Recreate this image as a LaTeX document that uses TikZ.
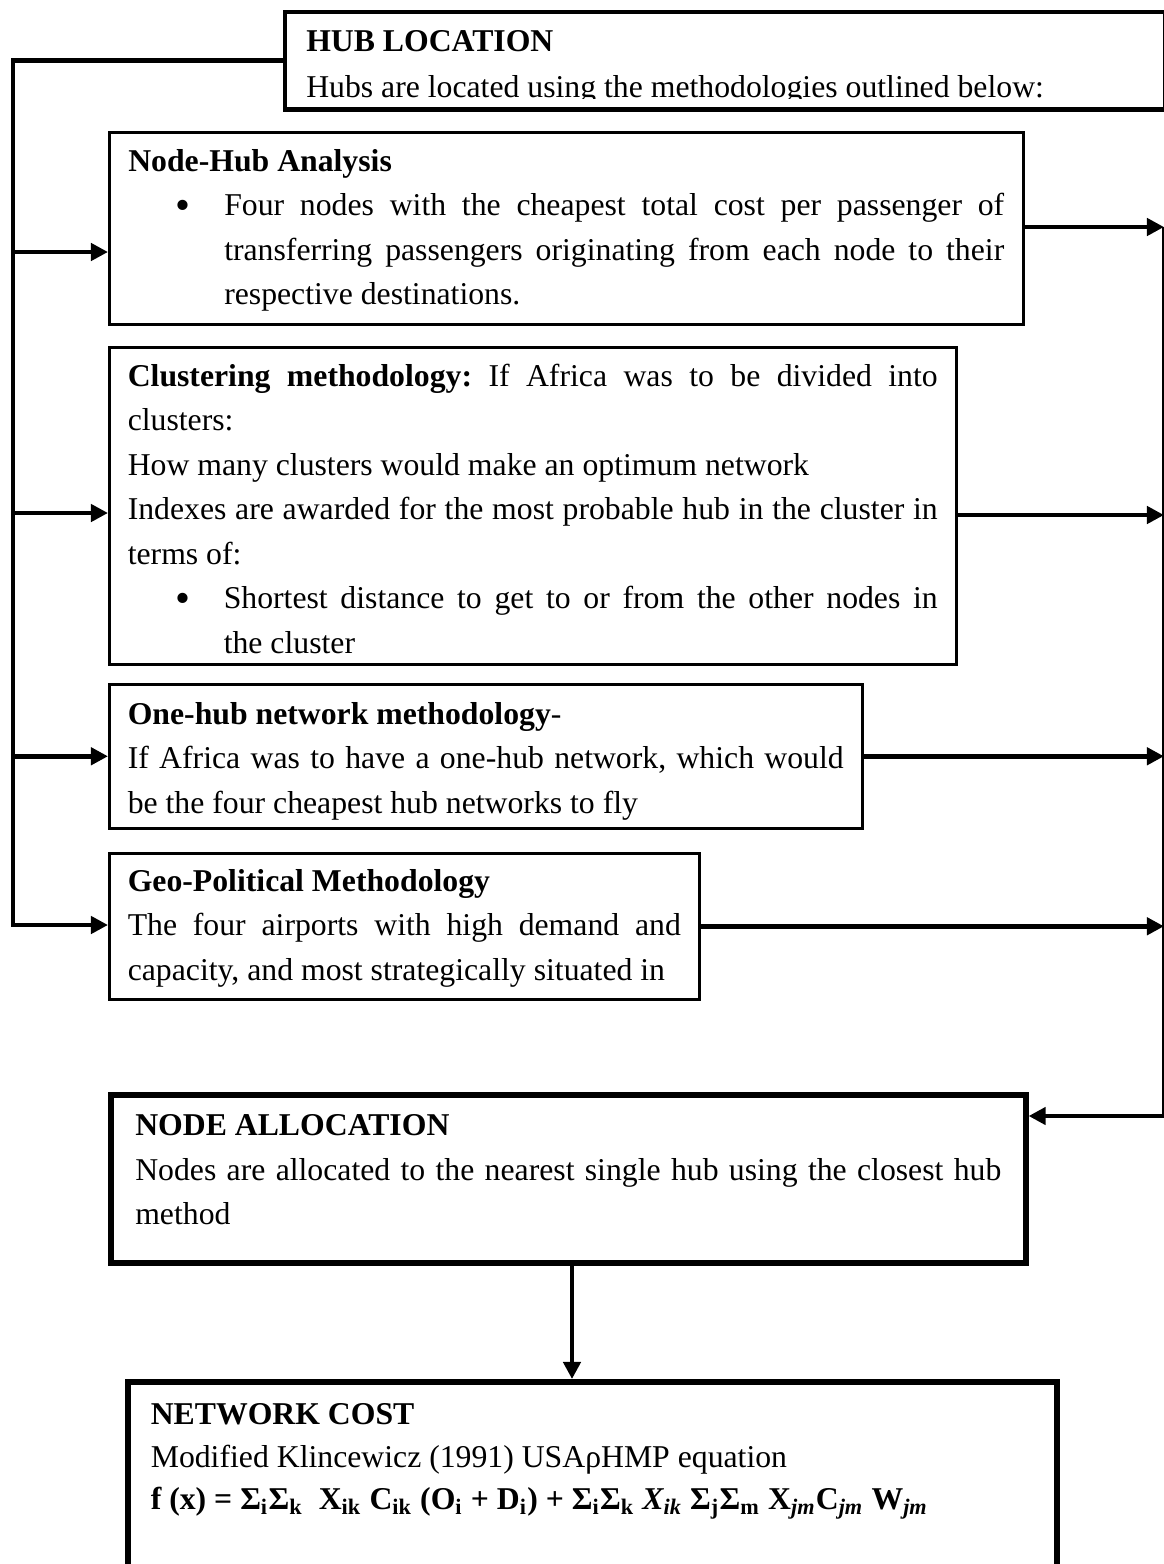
\documentclass[tikz,border=0pt]{standalone}
\usepackage{fontspec}
\setmainfont{Liberation Serif}
\usetikzlibrary{arrows.meta}

\newcommand{\bulletpt}[1]{\makebox[36pt][l]{\hspace{17.8pt}\raisebox{-1.5pt}{\fontsize{16}{16}\selectfont\textbullet}}\parbox[t]{\dimexpr\linewidth-36pt\relax}{#1}}

\tikzset{
  box/.style={draw, line width=0.95pt, rectangle, anchor=north west,
    inner ysep=0pt, inner xsep=6.94pt, align=justify,
    font=\fontsize{11.9}{16.7}\selectfont\frenchspacing},
  heavybox/.style={box, line width=2.1pt},
  link/.style={line width=1.75pt},
  linkarrow/.style={link, -{Triangle[length=6.4pt,width=6.4pt]}}
}

\begin{document}
\begin{tikzpicture}[x=0.375pt,y=-0.375pt]
  \useasboundingbox (0,0) rectangle (1163,1564);

  % top box, its second line is cut by the frame
  \begin{scope}
    \clip (0,0) rectangle (1163,98);
    \node[box, draw=none, inner xsep=7.5pt, text width=314pt, text height=14.25pt,
      text depth=21.4pt, font=\fontsize{11.9}{17.25}\selectfont\frenchspacing] (hub) at (285,12)
      {\textbf{HUB LOCATION}\\Hubs are located using the methodologies outlined below:};
  \end{scope}
  \draw[line width=1.75pt] (hub.north west) rectangle (hub.south east);

  \begin{scope}[every node/.style={box}]
    \node[inner xsep=7.125pt, text width=328.5pt, text height=14.625pt, text depth=57.375pt] (nh) at (108,131)
      {\textbf{Node-Hub Analysis}\par
       \bulletpt{Four nodes with the cheapest total cost per passenger of\linebreak
       transferring passengers originating from each node to their\linebreak
       respective destinations.}};
    \node[text width=303.75pt, text height=14.625pt, text depth=104.25pt] (cl) at (108,346)
      {\textbf{Clustering methodology:} If Africa was to be divided into\linebreak clusters:\par
       How many clusters would make an optimum network\par
       Indexes are awarded for the most probable hub in the cluster in\linebreak terms of:\par
       \bulletpt{Shortest distance to get to or from the other nodes in\linebreak the cluster}};
    \node[text width=268.5pt, text height=15pt, text depth=39pt] (oh) at (108,683)
      {\textbf{One-hub network methodology}-\par
       If Africa was to have a one-hub network, which would\linebreak
       be the four cheapest hub networks to fly};
    \node[text width=207.4pt, text height=14.25pt, text depth=40.5pt] (gp) at (108,852)
      {\textbf{Geo-Political Methodology}\par
       \parfillskip=0pt The four airports with high demand and\linebreak
       capacity, and most strategically situated in};
    \node[heavybox, inner xsep=9.19pt, text width=324.75pt, text height=15.375pt, text depth=47.6pt] (na) at (108,1092)
      {\textbf{NODE ALLOCATION}\par
       Nodes are allocated to the nearest single hub using the closest hub\linebreak method};
    \node[heavybox, inner xsep=8.625pt, text width=331.1pt, text height=16.1pt, text depth=75pt,
      font=\fontsize{11.9}{15.9}\selectfont\frenchspacing] (nc) at (125,1379)
      {\textbf{NETWORK COST}\par
       Modified Klincewicz (1991) USAρHMP equation\par
       \textbf{f (x) = Σ\textsubscript{i}Σ\textsubscript{k}\ \ X\textsubscript{ik} C\textsubscript{ik} (O\textsubscript{i} + D\textsubscript{i}) + Σ\textsubscript{i}Σ\textsubscript{k} \textit{X\textsubscript{ik}} Σ\textsubscript{j}Σ\textsubscript{m} X\textsubscript{\textit{jm}}C\textsubscript{\textit{jm}} W\textsubscript{\textit{jm}}}};
  \end{scope}

  % rails
  \coordinate (lrail) at (13,925);
  \coordinate (r1) at (13,252);
  \coordinate (r2) at (13,513);
  \coordinate (rtop) at (1164,227);
  \coordinate (e2) at (1164,515);
  \coordinate (rbot) at (1164,1116);
  \coordinate (dn) at (572,0);

  \draw[linkarrow] (hub.west) -| (lrail) -- (lrail -| gp.west);
  \draw[linkarrow] (rtop) -- (rbot) -- (rbot -| na.east);

  \begin{scope}[every edge/.style={draw, linkarrow}]
    \path (r1) edge (r1 -| nh.west);
    \path (r2) edge (r2 -| cl.west);
    \path (oh.west -| lrail) edge (oh.west);
    \path (rtop -| nh.east) edge (rtop);
    \path (e2 -| cl.east) edge (e2);
    \path (oh.east) edge (oh.east -| rtop);
    \path (gp.east) edge (gp.east -| rtop);
    \path (na.south -| dn) edge (nc.north -| dn);
  \end{scope}

\end{tikzpicture}
\end{document}
